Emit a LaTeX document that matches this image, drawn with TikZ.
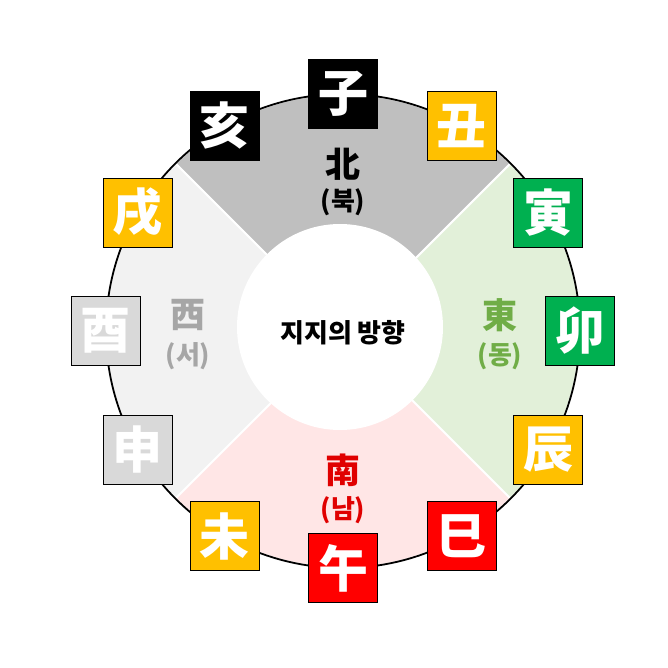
\documentclass[tikz,border=0pt]{standalone}
\usepackage{fontspec}
\setmainfont{Noto Sans CJK KR}
\usepackage{xcolor}
\usepackage{tikz}

\definecolor{northfill}{HTML}{BFBFBF}
\definecolor{westfill}{HTML}{F2F2F2}
\definecolor{eastfill}{HTML}{E2F0D9}
\definecolor{southfill}{HTML}{FFE6E6}
\definecolor{goldbox}{HTML}{FFC000}
\definecolor{greenbox}{HTML}{00B050}
\definecolor{redbox}{HTML}{FF0000}
\definecolor{greybox}{HTML}{D9D9D9}
\definecolor{westtext}{HTML}{A6A6A6}
\definecolor{easttext}{HTML}{70AD47}
\definecolor{southtext}{HTML}{E00000}

\begin{document}
\begin{tikzpicture}[x=1pt,y=1pt]
                \tikzset{Branch/.style={%
                    shape=rectangle,%
                    draw=black,%
                    line width=0.8pt,%
                    minimum size=69pt,%
                    inner sep=0pt,%
                    text=white,%
                    font=\fontsize{50}{50}\selectfont\bfseries,%
                }}
                \tikzset{Dir/.style={%
                    font=\fontsize{35}{35}\selectfont\bfseries,%
                    inner sep=0pt,%
                }}
                \tikzset{DirKr/.style={%
                    font=\fontsize{26}{26}\selectfont\bfseries,%
                    inner sep=0pt,%
                }}
                \tikzset{Sector/.style={%
                    draw=white,%
                    line width=2pt,%
                }}

                \useasboundingbox (-343,-336) rectangle (325,331);
                \fill[white] (-343,-336) rectangle (325,331);

                % four quarters of the ring
                \filldraw[Sector, fill=northfill] (0,0) -- (45:237) arc[start angle=45, end angle=135, radius=237] -- cycle;
                \filldraw[Sector, fill=westfill] (0,0) -- (135:237) arc[start angle=135, end angle=225, radius=237] -- cycle;
                \filldraw[Sector, fill=southfill] (0,0) -- (225:237) arc[start angle=225, end angle=315, radius=237] -- cycle;
                \filldraw[Sector, fill=eastfill] (0,0) -- (315:237) arc[start angle=-45, end angle=45, radius=237] -- cycle;
                \draw[black, line width=1.8pt] (0,0) circle[radius=237];
                \fill[white] (-3,4) circle[radius=103];

                \node[font=\fontsize{26}{26}\selectfont\bfseries] (title) at (0,-2) {지지의 방향};

                \node[Dir] (north) at (0,167) {北};
                \node[DirKr] (northkr) at (0,129) {(북)};
                \node[Dir, text=westtext] (west) at (-155,16) {西};
                \node[DirKr, text=westtext] (westkr) at (-155,-25) {(서)};
                \node[Dir, text=easttext] (east) at (157,16) {東};
                \node[DirKr, text=easttext] (eastkr) at (157,-25) {(동)};
                \node[Dir, text=southtext] (south) at (0,-139) {南};
                \node[DirKr, text=southtext] (southkr) at (0,-179) {(남)};

                \node[Branch, fill=black] (ja) at (90:237) {子};
                \node[Branch, fill=goldbox] (chuk) at (60:237) {丑};
                \node[Branch, fill=greenbox] (in) at (30:237) {寅};
                \node[Branch, fill=greenbox] (myo) at (0:237) {卯};
                \node[Branch, fill=goldbox] (jin) at (-30:237) {辰};
                \node[Branch, fill=redbox] (sa) at (-60:237) {巳};
                \node[Branch, fill=redbox] (o) at (-90:237) {午};
                \node[Branch, fill=goldbox] (mi) at (-120:237) {未};
                \node[Branch, fill=greybox] (sin) at (-150:237) {申};
                \node[Branch, fill=greybox] (yu) at (180:237) {酉};
                \node[Branch, fill=goldbox] (sul) at (150:237) {戌};
                \node[Branch, fill=black] (hae) at (120:237) {亥};
            \end{tikzpicture}
\end{document}
